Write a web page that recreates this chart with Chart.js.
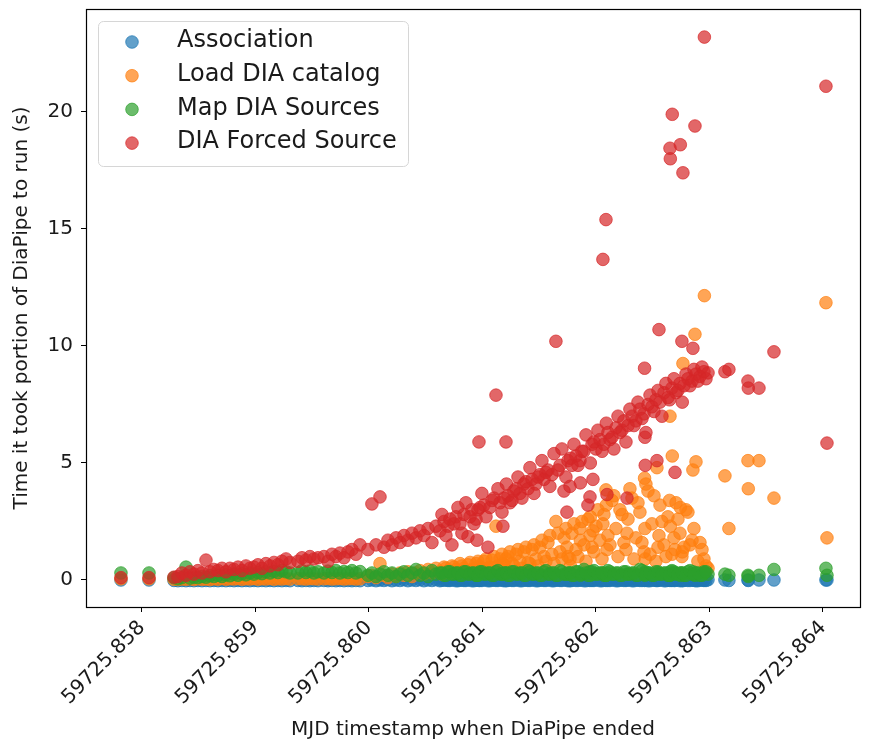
<!DOCTYPE html>
<html>
<head>
<meta charset="utf-8">
<script src="https://cdn.jsdelivr.net/npm/chart.js@4.4.1/dist/chart.umd.min.js"></script>
<style>
  html, body { margin: 0; padding: 0; background: #fff; }
  canvas { display: block; }
</style>
</head>
<body>
<canvas id="c" width="873" height="742"></canvas>
<script>
// MJD end time of each DiaPipe run
const runEnd = [
  59725.857815, 59725.858062, 59725.858282, 59725.858317, 59725.858352, 59725.858388, 59725.858423, 59725.858458, 59725.858493, 59725.858529,
  59725.858564, 59725.858599, 59725.858634, 59725.858670, 59725.858705, 59725.858740, 59725.858775, 59725.858811, 59725.858846, 59725.858881,
  59725.858916, 59725.858951, 59725.858987, 59725.859022, 59725.859057, 59725.859092, 59725.859128, 59725.859163, 59725.859198, 59725.859233,
  59725.859269, 59725.859304, 59725.859374, 59725.859410, 59725.859445, 59725.859480, 59725.859515, 59725.859551, 59725.859603, 59725.859639,
  59725.859674, 59725.859709, 59725.859744, 59725.859780, 59725.859815, 59725.859850, 59725.859885, 59725.859921, 59725.859991, 59725.860026,
  59725.860062, 59725.860097, 59725.860132, 59725.860167, 59725.860203, 59725.860238, 59725.860273, 59725.860308, 59725.860343, 59725.860379,
  59725.860414, 59725.860449, 59725.860484, 59725.860520, 59725.860555, 59725.860590, 59725.860625, 59725.860661, 59725.860696, 59725.860731,
  59725.860766, 59725.860802, 59725.860837, 59725.860872, 59725.860907, 59725.860943, 59725.860951, 59725.860969, 59725.860978, 59725.861013,
  59725.861048, 59725.861084, 59725.861119, 59725.861154, 59725.861180, 59725.861189, 59725.861207, 59725.861224, 59725.861260, 59725.861295,
  59725.861330, 59725.861365, 59725.861401, 59725.861436, 59725.861471, 59725.861506, 59725.861542, 59725.861577, 59725.861612, 59725.861647,
  59725.861683, 59725.861718, 59725.861744, 59725.861753, 59725.861771, 59725.861788, 59725.861824, 59725.861859, 59725.861862, 59725.861894,
  59725.861929, 59725.861947, 59725.861965, 59725.861973, 59725.862000, 59725.862035, 59725.862061, 59725.862070, 59725.862088, 59725.862097,
  59725.862105, 59725.862141, 59725.862176, 59725.862211, 59725.862246, 59725.862273, 59725.862282, 59725.862317, 59725.862352, 59725.862387,
  59725.862423, 59725.862428, 59725.862431, 59725.862434, 59725.862458, 59725.862493, 59725.862528, 59725.862537, 59725.862555, 59725.862564,
  59725.862599, 59725.862634, 59725.862652, 59725.862655, 59725.862669, 59725.862672, 59725.862696, 59725.862705, 59725.862740, 59725.862743,
  59725.862757, 59725.862766, 59725.862775, 59725.862810, 59725.862846, 59725.862854, 59725.862872, 59725.862881, 59725.862916, 59725.862951,
  59725.862955, 59725.862987, 59725.863136, 59725.863171, 59725.863339, 59725.863342, 59725.863436, 59725.863568, 59725.864026, 59725.864035,
  // second worker, busy stretch
  59725.860643, 59725.860678, 59725.860713, 59725.860749, 59725.860784, 59725.860819, 59725.860854, 59725.860890, 59725.860925, 59725.860960,
  59725.860995, 59725.861031, 59725.861066, 59725.861101, 59725.861136, 59725.861172, 59725.861211, 59725.861242, 59725.861277, 59725.861313,
  59725.861348, 59725.861383, 59725.861418, 59725.861454, 59725.861489, 59725.861524, 59725.861559, 59725.861594, 59725.861630, 59725.861665,
  59725.861700, 59725.861735, 59725.861775, 59725.861806, 59725.861841, 59725.861876, 59725.861912, 59725.861950, 59725.861982, 59725.862017,
  59725.862053, 59725.862091, 59725.862123, 59725.862158, 59725.862194, 59725.862229, 59725.862264, 59725.862299, 59725.862335, 59725.862370,
  59725.862405, 59725.862440, 59725.862476, 59725.862511, 59725.862546, 59725.862581, 59725.862616, 59725.862648, 59725.862687, 59725.862722,
  59725.862760, 59725.862793, 59725.862828, 59725.862863, 59725.862898, 59725.862934, 59725.862969,
];

// seconds spent in each stage, one value per run
const association = [
  0.0, 0.0, -0.02, -0.03, -0.02, -0.03, -0.02, -0.03, -0.02, -0.03,
  -0.02, -0.03, -0.02, -0.03, -0.02, -0.03, -0.02, -0.03, -0.02, -0.03,
  -0.02, -0.03, -0.02, -0.03, -0.02, -0.03, -0.02, -0.03, -0.02, -0.03,
  -0.02, -0.03, -0.02, -0.03, -0.02, -0.03, -0.02, -0.03, -0.02, -0.03,
  -0.02, -0.03, -0.02, -0.03, -0.02, -0.03, -0.02, -0.03, -0.02, 0.0,
  -0.03, 0.0, -0.02, 0.01, -0.03, 0.0, -0.02, 0.01, -0.03, 0.0,
  -0.02, 0.01, -0.03, 0.0, -0.02, 0.01, -0.03, 0.0, -0.02, 0.01,
  -0.03, 0.0, -0.02, 0.01, -0.03, 0.0, 0.0, -0.02, -0.02, 0.01,
  -0.03, 0.0, -0.02, 0.01, 0.0, -0.03, -0.02, 0.0, -0.02, 0.01,
  -0.03, 0.0, -0.02, 0.01, -0.03, 0.0, -0.02, 0.01, -0.03, 0.0,
  -0.02, 0.01, 0.0, -0.03, -0.02, 0.0, -0.02, 0.01, 0.0, -0.03,
  0.0, -0.02, -0.02, 0.01, 0.01, -0.03, 0.0, 0.0, -0.02, 0.01,
  -0.02, 0.01, -0.03, 0.0, -0.02, 0.0, 0.01, -0.03, 0.0, -0.02,
  0.01, -0.02, 0.0, 0.01, -0.03, 0.0, -0.02, -0.02, 0.0, 0.01,
  -0.03, 0.0, -0.02, 0.01, -0.02, 0.0, -0.02, 0.01, -0.03, 0.0,
  0.01, -0.02, 0.0, -0.02, 0.01, 0.0, -0.02, -0.03, 0.0, -0.02,
  0.0, 0.01, 0.0, -0.02, 0.0, -0.02, 0.0, 0.0, 0.0, 0.0,
  -0.01, 0.0, -0.02, 0.01, -0.03, 0.0, -0.02, 0.01, -0.03, 0.0,
  -0.02, 0.01, -0.03, 0.0, -0.02, 0.01, -0.03, 0.0, -0.02, 0.01,
  -0.03, 0.0, -0.02, 0.01, -0.03, 0.0, -0.02, 0.01, -0.03, 0.0,
  -0.02, 0.01, -0.03, 0.0, -0.02, 0.01, -0.03, 0.0, -0.02, 0.01,
  -0.03, 0.0, -0.02, 0.01, -0.03, 0.0, -0.02, 0.01, -0.03, 0.0,
  -0.02, 0.01, -0.03, 0.0, -0.02, 0.01, -0.03, 0.0, -0.02, 0.01,
  -0.03, 0.0, -0.02, 0.01, -0.03, 0.0, -0.02,
];

const loadDiaCatalog = [
  0.05, 0.05, 0.03, 0.02, 0.04, 0.03, 0.05, 0.02, 0.05, 0.03,
  0.04, 0.02, 0.05, 0.03, 0.06, 0.03, 0.05, 0.04, 0.06, 0.03,
  0.05, 0.04, 0.06, 0.03, 0.05, 0.04, 0.06, 0.03, 0.05, 0.04,
  0.06, 0.04, 0.06, 0.05, 0.04, 0.06, 0.05, 0.04, 0.05, 0.06,
  0.04, 0.05, 0.06, 0.04, 0.05, 0.06, 0.04, 0.05, 0.15, 0.2,
  0.1, 0.7, 0.2, 0.1, 0.25, 0.15, 0.3, 0.2, 0.35, 0.15,
  0.3, 0.4, 0.25, 0.45, 0.3, 0.5, 0.35, 0.55, 0.4, 0.6,
  0.45, 0.7, 0.5, 0.65, 0.45, 0.7, 0.4, 0.6, 0.55, 0.8,
  0.5, 0.85, 2.3, 0.9, 0.7, 0.65, 0.9, 1.0, 0.7, 1.1,
  0.8, 1.2, 0.75, 1.3, 0.9, 1.4, 1.0, 1.6, 1.1, 2.5,
  1.2, 1.8, 1.4, 1.0, 0.9, 2.0, 1.3, 2.2, 1.7, 1.5,
  2.6, 1.9, 1.4, 2.1, 2.3, 1.7, 2.4, 2.8, 3.85, 1.3,
  1.9, 3.4, 2.2, 3.0, 1.6, 2.0, 2.6, 3.5, 1.8, 2.9,
  1.2, 4.35, 2.2, 0.9, 3.8, 2.4, 0.8, 4.8, 1.9, 3.2,
  1.5, 2.7, 7.0, 2.3, 1.1, 5.3, 1.3, 3.3, 2.0, 3.1,
  1.0, 9.25, 1.4, 2.9, 1.7, 4.7, 10.5, 5.05, 1.6, 0.9,
  12.15, 0.5, 4.45, 2.2, 5.1, 3.9, 5.1, 3.5, 11.85, 1.8,
  0.25, 0.5, 0.3, 0.55, 0.35, 0.6, 0.4, 0.75, 0.45, 0.8,
  0.5, 0.9, 0.55, 1.0, 0.6, 1.1, 0.4, 1.2, 0.6, 1.3,
  0.5, 1.4, 0.7, 1.5, 0.6, 1.7, 0.8, 1.9, 0.7, 2.0,
  0.9, 2.2, 0.6, 2.4, 1.0, 2.5, 0.8, 2.7, 1.2, 3.0,
  0.9, 3.2, 1.5, 3.6, 1.0, 2.8, 1.3, 3.9, 0.9, 3.3,
  1.6, 4.1, 1.1, 3.6, 1.4, 2.5, 1.0, 3.4, 1.8, 2.6,
  1.2, 3.0, 1.5, 2.2, 0.8, 1.3, 0.6,
];

const mapDiaSources = [
  0.3, 0.3, 0.1, 0.05, 0.1, 0.55, 0.08, 0.12, 0.1, 0.15,
  0.12, 0.18, 0.15, 0.2, 0.15, 0.22, 0.18, 0.25, 0.2, 0.27,
  0.22, 0.3, 0.25, 0.32, 0.27, 0.35, 0.3, 0.37, 0.32, 0.4,
  0.35, 0.3, 0.3, 0.4, 0.32, 0.38, 0.3, 0.35, 0.3, 0.38,
  0.32, 0.4, 0.3, 0.36, 0.32, 0.4, 0.3, 0.36, 0.2, 0.3,
  0.15, 0.25, 0.35, 0.2, 0.3, 0.15, 0.25, 0.35, 0.2, 0.3,
  0.45, 0.2, 0.3, 0.15, 0.4, 0.25, 0.3, 0.2, 0.35, 0.25,
  0.3, 0.2, 0.35, 0.25, 0.3, 0.2, 0.2, 0.3, 0.35, 0.25,
  0.3, 0.2, 0.35, 0.25, 0.25, 0.3, 0.3, 0.2, 0.35, 0.25,
  0.3, 0.2, 0.4, 0.25, 0.3, 0.2, 0.35, 0.25, 0.3, 0.2,
  0.4, 0.25, 0.25, 0.3, 0.3, 0.2, 0.35, 0.25, 0.2, 0.45,
  0.2, 0.35, 0.35, 0.25, 0.25, 0.3, 0.3, 0.2, 0.2, 0.3,
  0.4, 0.25, 0.3, 0.2, 0.35, 0.25, 0.25, 0.3, 0.2, 0.45,
  0.25, 0.3, 0.2, 0.35, 0.3, 0.2, 0.35, 0.25, 0.3, 0.25,
  0.3, 0.2, 0.2, 0.35, 0.4, 0.25, 0.3, 0.25, 0.3, 0.2,
  0.3, 0.25, 0.2, 0.35, 0.25, 0.35, 0.2, 0.3, 0.2, 0.35,
  0.3, 0.25, 0.25, 0.2, 0.2, 0.15, 0.2, 0.45, 0.5, 0.2,
  0.3, 0.2, 0.35, 0.25, 0.3, 0.2, 0.35, 0.25, 0.3, 0.2,
  0.35, 0.25, 0.3, 0.2, 0.4, 0.25, 0.3, 0.2, 0.35, 0.25,
  0.3, 0.2, 0.35, 0.25, 0.3, 0.2, 0.4, 0.25, 0.3, 0.2,
  0.35, 0.25, 0.3, 0.2, 0.35, 0.25, 0.3, 0.2, 0.4, 0.25,
  0.3, 0.2, 0.35, 0.25, 0.3, 0.2, 0.35, 0.25, 0.3, 0.2,
  0.4, 0.25, 0.3, 0.2, 0.35, 0.25, 0.3, 0.2, 0.35, 0.25,
  0.3, 0.2, 0.4, 0.25, 0.3, 0.2, 0.35,
];

const diaForcedSource = [
  0.1, 0.1, 0.12, 0.15, 0.3, 0.2, 0.35, 0.25, 0.4, 0.3,
  0.85, 0.35, 0.45, 0.4, 0.5, 0.35, 0.5, 0.45, 0.55, 0.4,
  0.6, 0.5, 0.55, 0.65, 0.5, 0.7, 0.6, 0.75, 0.65, 0.8,
  0.9, 0.75, 0.8, 0.95, 0.85, 1.0, 0.9, 0.95, 1.0, 0.8,
  1.1, 1.0, 1.15, 0.95, 1.2, 1.3, 1.1, 1.5, 1.3, 3.25,
  1.5, 3.55, 1.4, 1.7, 1.5, 1.8, 1.6, 1.9, 1.7, 2.0,
  1.8, 2.1, 1.9, 2.2, 1.6, 2.3, 2.1, 2.5, 2.3, 1.5,
  2.7, 2.4, 2.8, 1.85, 3.0, 2.6, 1.7, 5.9, 3.1, 3.2,
  1.4, 3.4, 7.9, 3.3, 2.3, 3.5, 5.9, 3.6, 3.4, 3.9,
  3.7, 4.1, 3.9, 4.3, 4.1, 4.5, 4.3, 4.7, 4.5, 10.2,
  4.9, 3.8, 2.9, 5.1, 4.0, 4.9, 5.3, 5.1, 4.15, 5.5,
  3.2, 3.55, 5.8, 4.3, 5.6, 6.0, 13.7, 5.8, 15.4, 3.65,
  6.3, 6.1, 6.5, 6.3, 6.8, 3.5, 6.6, 7.0, 6.8, 7.3,
  7.1, 9.05, 6.1, 4.9, 7.5, 7.4, 7.7, 5.1, 10.7, 7.6,
  8.0, 7.8, 18.45, 18.0, 8.2, 19.9, 4.6, 8.0, 8.4, 18.6,
  10.2, 17.4, 8.3, 8.6, 8.5, 9.9, 19.4, 8.8, 8.7, 8.9,
  23.2, 8.85, 8.9, 9.0, 8.5, 8.2, 8.2, 9.75, 21.1, 5.85,
  2.8, 1.9, 2.6, 2.4, 3.1, 2.0, 3.3, 2.7, 2.4, 3.0,
  3.7, 2.7, 3.1, 3.5, 3.9, 2.9, 4.1, 3.3, 3.8, 4.4,
  3.5, 4.2, 4.8, 3.7, 4.4, 5.1, 4.6, 4.0, 5.4, 4.7,
  5.6, 4.4, 5.2, 5.8, 4.9, 5.5, 6.2, 5.0, 5.9, 6.4,
  5.5, 6.7, 6.0, 5.6, 7.0, 6.4, 5.9, 7.3, 6.6, 7.6,
  6.9, 6.3, 7.9, 7.2, 8.1, 7.0, 8.4, 7.7, 8.6, 8.1,
  7.6, 8.8, 8.3, 9.0, 8.5, 9.1, 8.6,
];

const seriesNames = ['Association', 'Load DIA catalog', 'Map DIA Sources', 'DIA Forced Source'];
const seriesValues = [association, loadDiaCatalog, mapDiaSources, diaForcedSource];
const seriesColors = ['31,119,180', '255,127,14', '44,160,44', '214,39,40'];

const xTicks = [59725.858, 59725.859, 59725.860, 59725.861, 59725.862, 59725.863, 59725.864];
const yTicks = [0, 5, 10, 15, 20];

const FONT = '"DejaVu Sans", "Liberation Sans", sans-serif';
const INK = '#1a1a1a';

// matplotlib-style closed frame around the plot area
const frame = {
  id: 'frame',
  afterDatasetsDraw(chart) {
    const { ctx, chartArea: a } = chart;
    ctx.save();
    ctx.strokeStyle = '#000';
    ctx.lineWidth = 1.2;
    ctx.strokeRect(Math.round(a.left) + 0.5, Math.round(a.top) + 0.5,
      Math.round(a.right - a.left), Math.round(a.bottom - a.top));
    ctx.restore();
  },
};

// legend box in the upper-left corner of the plot area
const insideLegend = {
  id: 'insideLegend',
  afterDraw(chart) {
    const { ctx, chartArea: a } = chart;
    const x = a.left + 12, y = a.top + 12, w = 310, h = 145;
    ctx.save();
    ctx.beginPath();
    ctx.roundRect(x + 0.5, y + 0.5, w, h, 5);
    ctx.fillStyle = 'rgba(255,255,255,0.8)';
    ctx.fill();
    ctx.strokeStyle = '#d6d6d6';
    ctx.lineWidth = 1;
    ctx.stroke();
    ctx.font = '24px ' + FONT;
    ctx.textBaseline = 'middle';
    chart.data.datasets.forEach((ds, i) => {
      const cy = y + 20 + i * 33.7;
      ctx.beginPath();
      ctx.arc(x + 34, cy + 1, 6.3, 0, Math.PI * 2);
      ctx.fillStyle = ds.backgroundColor;
      ctx.fill();
      ctx.strokeStyle = ds.borderColor;
      ctx.stroke();
      ctx.fillStyle = INK;
      ctx.fillText(ds.label, x + 79, cy);
    });
    ctx.restore();
  },
};

const datasets = seriesNames.map((name, i) => ({
  label: name,
  data: runEnd.map((t, j) => ({ x: t, y: seriesValues[i][j] })),
  backgroundColor: `rgba(${seriesColors[i]},0.7)`,
  borderColor: `rgba(${seriesColors[i]},0.7)`,
  borderWidth: 1,
  pointRadius: 6.3,
  pointHoverRadius: 6.3,
  order: seriesNames.length - i,
}));

new Chart(document.getElementById('c'), {
  type: 'scatter',
  data: { datasets },
  plugins: [frame, insideLegend],
  options: {
    responsive: false,
    animation: false,
    devicePixelRatio: 1,
    layout: { padding: { top: 9, right: 13, left: 0, bottom: 0 } },
    plugins: { legend: { display: false }, tooltip: { enabled: false } },
    scales: {
      x: {
        type: 'linear',
        min: 59725.857507,
        max: 59725.864326,
        afterBuildTicks: (s) => { s.ticks = xTicks.map((v) => ({ value: v })); },
        afterFit: (s) => { s.height = 135; s.paddingLeft = 0; s.paddingRight = 0; },
        border: { display: false },
        grid: { drawOnChartArea: false, drawTicks: true, tickLength: 5, tickColor: '#000' },
        ticks: {
          autoSkip: false,
          minRotation: 45,
          maxRotation: 45,
          padding: 4,
          color: INK,
          font: { family: FONT, size: 20 },
          callback: (v) => Number(v).toFixed(3),
        },
        title: {
          display: true,
          text: 'MJD timestamp when DiaPipe ended',
          color: INK,
          font: { family: FONT, size: 20 },
          padding: { top: 0, bottom: 0 },
        },
      },
      y: {
        type: 'linear',
        min: -1.154,
        max: 24.4,
        afterBuildTicks: (s) => { s.ticks = yTicks.map((v) => ({ value: v })); },
        afterFit: (s) => { s.width = 86; s.paddingTop = 0; s.paddingBottom = 0; },
        border: { display: false },
        grid: { drawOnChartArea: false, drawTicks: true, tickLength: 5, tickColor: '#000' },
        ticks: {
          padding: 8,
          color: INK,
          font: { family: FONT, size: 20 },
        },
        title: {
          display: true,
          text: 'Time it took portion of DiaPipe to run (s)',
          color: INK,
          font: { family: FONT, size: 20 },
          padding: { top: 10, bottom: 0 },
        },
      },
    },
  },
});
</script>
</body>
</html>
